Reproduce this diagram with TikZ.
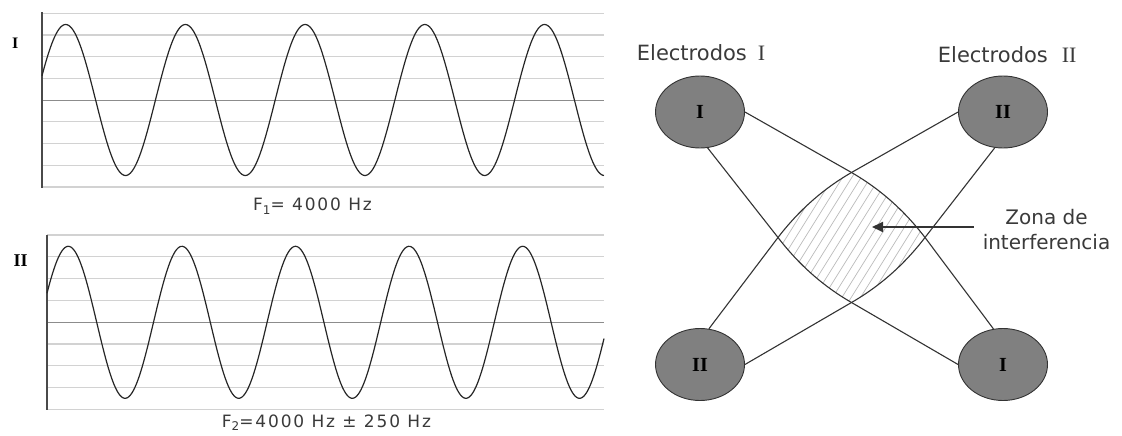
\documentclass[tikz,border=0pt]{standalone}
\usepackage{fontspec}
\setmainfont{Liberation Serif}
\newfontfamily\sansf{DejaVu Sans}
\newfontfamily\flabf[LetterSpace=11]{DejaVu Sans}
\usetikzlibrary{shapes.geometric,arrows.meta,calc}
\definecolor{ink}{HTML}{333333}
\definecolor{gridc}{HTML}{D2D2D2}
\definecolor{midc}{HTML}{8C8C8C}
\definecolor{axisc}{HTML}{4A4A4A}
\definecolor{elfill}{HTML}{808080}
\definecolor{hatchc}{HTML}{BBBBBB}
\definecolor{txt}{HTML}{3A3A3A}
\begin{document}
\begin{tikzpicture}[x=1pt,y=-1pt,
  gridline/.style={gridc, line width=1.2pt},
  midline/.style={midc, line width=1pt},
  axisline/.style={axisc, line width=1.6pt},
  wave/.style={black!85, line width=1.2pt},
  electrode/.style={ellipse, draw=ink, line width=0.9pt, fill=elfill,
    minimum width=89pt, minimum height=72pt, inner sep=0pt,
    font=\fontsize{20}{20}\selectfont\bfseries},
  wire/.style={draw=ink, line width=1.1pt},
  hatch/.style={hatchc, line width=0.7pt},
  pointer/.style={draw=ink, line width=2pt, -{Triangle[length=11pt,width=10pt]}},
  eltext/.style={font=\sansf\fontsize{21}{25}\selectfont, text=txt, inner sep=0pt, anchor=base west},
  flabel/.style={font=\flabf\fontsize{17}{20}\selectfont, text=txt, inner sep=0pt, anchor=base west},
  plabel/.style={font=\bfseries, inner sep=0pt}]
\fill[white] (0,0) rectangle (1122,436);
\useasboundingbox (0,0) rectangle (1122,436);

% ---------- panel I ----------
\foreach \i in {0,...,8} {
  \ifnum\i=4
    \draw[midline] (42,{13.3+21.7*\i}) -- (604,{13.3+21.7*\i});
  \else
    \draw[gridline] (42,{13.3+21.7*\i}) -- (604,{13.3+21.7*\i});
  \fi
}
\draw[axisline] (42,12.5) -- (42,187.5);
\draw[wave] plot[domain=42:604, samples=400] (\x, {100-75.5*cos(((\x-65.7)/119.7)*360)});
\node[plabel, font=\fontsize{16}{16}\selectfont\bfseries] (lab1) at (15.3,43.5) {I};
\node[flabel] (f1) at (253,210.7) {F\raisebox{-3.5pt}{\fontsize{12}{12}\selectfont 1}= 4000 Hz};

% ---------- panel II ----------
\foreach \i in {0,...,8} {
  \ifnum\i=4
    \draw[midline] (47,{235+21.8*\i}) -- (604,{235+21.8*\i});
  \else
    \draw[gridline] (47,{235+21.8*\i}) -- (604,{235+21.8*\i});
  \fi
}
\draw[axisline] (47,234.5) -- (47,409.8);
\draw[wave] plot[domain=47:604, samples=400] (\x, {322.3-76*cos(((\x-68.3)/113.6)*360)});
\node[plabel, font=\fontsize{18}{18}\selectfont\bfseries] (lab2) at (20.7,261) {II};
\node[flabel] (f2) at (221.7,427) {F\raisebox{-3.5pt}{\fontsize{12}{12}\selectfont 2}=4000 Hz ± 250 Hz};

% ---------- electrodes ----------
\node[electrode] (TL) at (700,112) {I};
\node[electrode] (TR) at (1003,112) {II};
\node[electrode] (BL) at (700,364.5) {II};
\node[electrode] (BR) at (1003,364.5) {I};

\node[eltext] (e1) at (636.7,60.7) {Electrodos\hspace{11pt}{\rmfamily\fontsize{22}{22}\selectfont I}};
\node[eltext] (e2) at (937.7,63) {Electrodos\hspace{14pt}{\rmfamily\fontsize{22}{22}\selectfont II}};

% ---------- interference zone ----------
\coordinate (T0) at (851.5,172.5);
\coordinate (Bm) at (851.5,302.5);
\coordinate (L) at (778,237.5);
\coordinate (R) at (925,237.5);
\coordinate (c1) at (809,278);
\coordinate (c2) at (894,197);
\coordinate (c3) at (809,197);
\coordinate (c4) at (894,278);

\begin{scope}
\clip (T0) .. controls ($(T0)!2/3!(c2)$) and ($(R)!2/3!(c2)$) .. (R)
           .. controls ($(R)!2/3!(c4)$) and ($(Bm)!2/3!(c4)$) .. (Bm)
           .. controls ($(Bm)!2/3!(c1)$) and ($(L)!2/3!(c1)$) .. (L)
           .. controls ($(L)!2/3!(c3)$) and ($(T0)!2/3!(c3)$) .. (T0) -- cycle;
\foreach \i in {-12,...,12}
  \draw[hatch] ({851.5+9.3*\i-50},317.5) -- ({851.5+9.3*\i+50},157.5);
\end{scope}

\draw[wire] (TL.-78) -- (L) .. controls ($(L)!2/3!(c1)$) and ($(Bm)!2/3!(c1)$) .. (Bm) -- (BR.west);
\draw[wire] (TL.east) -- (T0) .. controls ($(T0)!2/3!(c2)$) and ($(R)!2/3!(c2)$) .. (R) -- (BR.105);
\draw[wire] (TR.west) -- (T0) .. controls ($(T0)!2/3!(c3)$) and ($(L)!2/3!(c3)$) .. (L) -- (BL.76);
\draw[wire] (TR.257) -- (R) .. controls ($(R)!2/3!(c4)$) and ($(Bm)!2/3!(c4)$) .. (Bm) -- (BL.east);

\node[font=\sansf\fontsize{20}{24.3}\selectfont, text=txt, align=center, inner sep=0pt] (zona) at (1046.5,229.5) {Zona de\\interferencia};
\coordinate (tip) at (872,227);
\draw[pointer] (zona.west |- tip) ++(-9pt,0) -- (tip);
\end{tikzpicture}
\end{document}
